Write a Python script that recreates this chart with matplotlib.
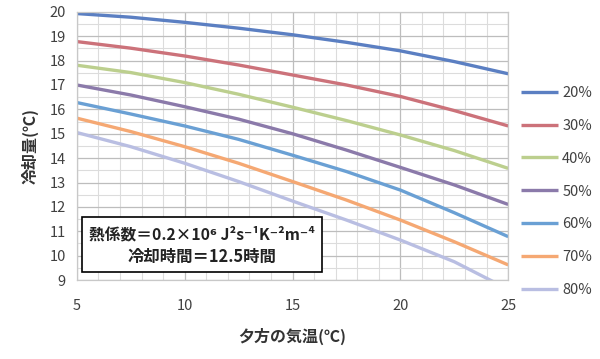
import matplotlib.pyplot as plt
from matplotlib.patches import Rectangle
from matplotlib.ticker import MultipleLocator

plt.rcParams['font.family'] = ['Noto Sans CJK JP', 'DejaVu Sans']

x = [5, 7.5, 10, 12.5, 15, 17.5, 20, 22.5, 25]
labels = ['20%', '30%', '40%', '50%', '60%', '70%', '80%']
y20 = [19.93, 19.78, 19.57, 19.33, 19.06, 18.75, 18.40, 17.96, 17.46]
y30 = [18.78, 18.51, 18.19, 17.82, 17.41, 17.00, 16.53, 15.95, 15.32]
y40 = [17.81, 17.51, 17.10, 16.62, 16.09, 15.54, 14.95, 14.31, 13.58]
y50 = [17.00, 16.59, 16.11, 15.60, 15.00, 14.33, 13.62, 12.90, 12.10]
y60 = [16.28, 15.81, 15.32, 14.77, 14.12, 13.45, 12.69, 11.76, 10.78]
y70 = [15.64, 15.09, 14.47, 13.79, 13.04, 12.28, 11.46, 10.57, 9.62]
y80 = [15.05, 14.47, 13.79, 13.04, 12.24, 11.46, 10.64, 9.75, 8.62]
series = [y20, y30, y40, y50, y60, y70, y80]
colors = ['#5b7fc2', '#cc727a', '#bccf8e', '#8b7aaa', '#6aa0d4', '#f5a873', '#b9bee2']

fig = plt.figure(figsize=(6, 3.59), dpi=100)
ax = fig.add_axes([0.128, 0.22, 0.719, 0.747])

for ys, c, lab in zip(series, colors, labels):
    ax.plot(x, ys, color=c, lw=2.4, label=lab, solid_capstyle='butt', solid_joinstyle='round')

ax.set_xlim(5, 25)
ax.set_ylim(9, 20)
ax.xaxis.set_major_locator(MultipleLocator(5))
ax.xaxis.set_minor_locator(MultipleLocator(1))
ax.yaxis.set_major_locator(MultipleLocator(1))
ax.yaxis.set_minor_locator(MultipleLocator(0.5))
ax.grid(which='major', color='#bdbdbd', lw=0.9)
ax.grid(which='minor', color='#dcdcdc', lw=0.8)
ax.set_axisbelow(True)
ax.tick_params(which='both', length=0)
ax.tick_params(axis='x', pad=14)
ax.tick_params(axis='y', pad=8)
for s in ax.spines.values():
    s.set_color('#c8c8c8')
    s.set_linewidth(0.9)
for t in ax.get_xticklabels() + ax.get_yticklabels():
    t.set_fontsize(10.5)
    t.set_color('#404040')

ax.set_xlabel('夕方の気温(℃)', fontsize=11.5, color='#333333', labelpad=10, fontweight='bold')
ax.set_ylabel('冷却量(℃)', fontsize=11.5, color='#333333', labelpad=8, fontweight='bold')

leg = ax.legend(loc='center left', bbox_to_anchor=(1.0, 0.33), frameon=False,
                fontsize=10.5, handlelength=2.5, handletextpad=0.3, labelspacing=1.3)
for t in leg.get_texts():
    t.set_color('#404040')

ax.add_patch(Rectangle((0.012, 0.03), 0.556, 0.205, transform=ax.transAxes,
                       facecolor='white', edgecolor='black', lw=1.2, zorder=5))
ax.text(0.29, 0.17, '熱係数＝0.2×10⁶ J²s⁻¹K⁻²m⁻⁴', transform=ax.transAxes,
        ha='center', va='center', fontsize=11.3, fontweight='bold', color='#222222', zorder=6)
ax.text(0.29, 0.085, '冷却時間＝12.5時間', transform=ax.transAxes,
        ha='center', va='center', fontsize=11.8, fontweight='bold', color='#222222', zorder=6)

fig.savefig('out.png', dpi=100)
